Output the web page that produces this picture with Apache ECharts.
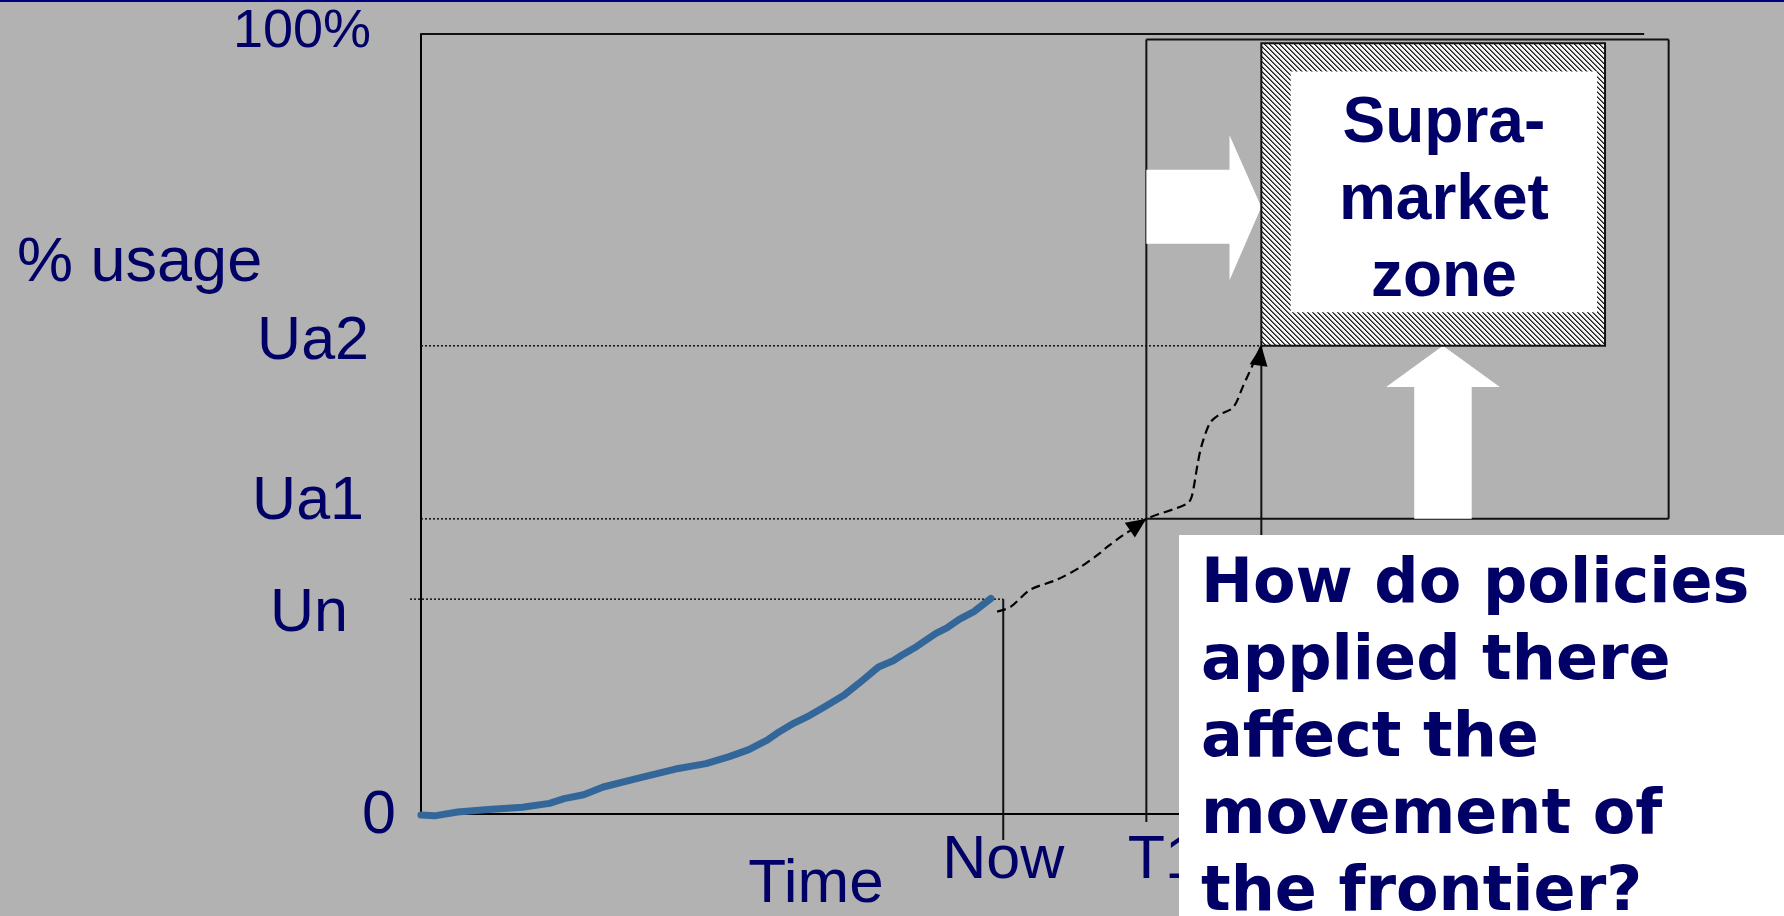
<!DOCTYPE html>
<html>
<head>
<meta charset="utf-8">
<title>Supra-market zone</title>
<script src="https://cdn.jsdelivr.net/npm/echarts@6/dist/echarts.min.js"></script>
<style>
  html, body { margin: 0; padding: 0; background: #b2b2b2; }
  #chart { width: 1784px; height: 916px; }
</style>
</head>
<body>
<div id="chart"></div>
<script>
// usage levels on the y axis (percent of capacity)
const levelNames = ['0', 'Un', 'Ua1', 'Ua2', '100%']
const levelValues = [0, 27.5, 37.8, 60.0, 100]

// points in time on the x axis
const timeNames = ['Now', 'T1']
const timeValues = [47.6, 59.3]
const frontierTime = 68.7

// observed usage up to now
const usage = [
  [0, -0.2], [1.1, -0.3], [3.0, 0.2], [5.5, 0.5], [8.3, 0.8], [10.5, 1.3],
  [11.7, 1.9], [13.3, 2.4], [14.9, 3.4], [17.7, 4.5], [20.8, 5.7], [23.3, 6.4],
  [25.2, 7.3], [26.8, 8.2], [28.3, 9.4], [29.3, 10.5], [30.5, 11.6], [31.8, 12.6],
  [33.0, 13.7], [34.6, 15.2], [35.8, 16.7], [37.4, 18.8], [38.6, 19.6], [39.3, 20.3],
  [40.5, 21.4], [42.1, 23.1], [43.0, 23.8], [44.0, 24.9], [45.2, 25.9], [46.6, 27.6]
]

// projected usage after now
const projected = [
  [47.1, 25.9], [48.2, 26.5], [49.8, 28.7], [52.0, 30.0], [53.9, 31.6], [55.5, 33.4],
  [56.1, 34.2], [57.4, 35.7], [58.5, 36.8], [59.3, 37.8], [62.6, 39.7], [63.0, 40.6],
  [63.5, 44.9], [63.8, 47.1], [64.5, 50.1], [65.2, 51.1], [66.4, 52.1], [67.2, 54.8],
  [68.7, 60.0]
]

const navy = '#000066'
const axisFont = '"Liberation Sans", Arial, sans-serif'

const Un = levelValues[1], Ua1 = levelValues[2], Ua2 = levelValues[3]
const now = timeValues[0], t1 = timeValues[1]

// frame round the future region and the supra-market zone
const frameTop = 99.3, frameRight = 102
const zone = [frontierTime, Ua2, 96.8, 98.8]
const zoneInner = [71.1, 64.3, 96.15, 95.2]

// dotted level guides: x1, y1, x2, y2
const guides = [
  [-0.9, Un, now, Un],
  [0, Ua1, t1, Ua1],
  [0, Ua2, frontierTime, Ua2]
]

// solid lines
const frames = [
  [0, 100, 100, 100],
  [now, Un, now, -3.4],
  [t1, frameTop, t1, -1.1],
  [frontierTime, Ua2, frontierTime, -1.1],
  [t1, frameTop, frameRight, frameTop],
  [frameRight, frameTop, frameRight, Ua1],
  [t1, Ua1, frameRight, Ua1]
]

// arrow heads on the projection: tail x, tail y, tip x, tip y
const arrowHeads = [
  [57.9, 36.3, t1, Ua1],
  [68.47, 57.4, frontierTime, Ua2]
]

// white block arrows pointing at the zone
const rightArrow = [[t1, 82.6], [66.1, 82.6], [66.1, 87.0], [frontierTime, 77.8], [66.1, 68.4], [66.1, 73.1], [t1, 73.1]]
const upArrow = [[81.2, Ua1], [81.2, 54.7], [78.9, 54.7], [83.55, Ua2], [88.2, 54.7], [85.9, 54.7], [85.9, Ua1]]

function hatchPattern() {
  const n = 5
  const c = document.createElement('canvas')
  c.width = n
  c.height = n
  const ctx = c.getContext('2d')
  ctx.fillStyle = '#f4f4f4'
  ctx.fillRect(0, 0, n, n)
  for (let y = 0; y < n; y++) {
    for (let x = 0; x < n; x++) {
      const d = (((x - y) % n) + n) % n
      if (d === 0) {
        ctx.fillStyle = '#1e1e1e'
        ctx.fillRect(x, y, 1, 1)
      } else if (d === 1) {
        ctx.fillStyle = '#6a6a6a'
        ctx.fillRect(x, y, 1, 1)
      }
    }
  }
  return c
}

function segments(style) {
  return function (params, api) {
    const p1 = api.coord([api.value(0), api.value(1)])
    const p2 = api.coord([api.value(2), api.value(3)])
    return {
      type: 'line',
      shape: { x1: p1[0], y1: p1[1], x2: p2[0], y2: p2[1] },
      style: style
    }
  }
}

function renderArrowHead(params, api) {
  const a = api.coord([api.value(0), api.value(1)])
  const b = api.coord([api.value(2), api.value(3)])
  const dx = b[0] - a[0], dy = b[1] - a[1]
  const len = Math.sqrt(dx * dx + dy * dy)
  const ux = dx / len, uy = dy / len
  const L = 20, W = 9
  const bx = b[0] - ux * L, by = b[1] - uy * L
  return {
    type: 'polygon',
    shape: { points: [[b[0], b[1]], [bx - uy * W, by + ux * W], [bx + uy * W, by - ux * W]] },
    style: { fill: '#000' }
  }
}

const hatch = hatchPattern()

function renderZone(params, api) {
  const p0 = api.coord([api.value(0), api.value(1)])
  const p1 = api.coord([api.value(2), api.value(3)])
  const i0 = api.coord([zoneInner[0], zoneInner[1]])
  const i1 = api.coord([zoneInner[2], zoneInner[3]])
  return {
    type: 'group',
    children: [
      {
        type: 'polygon',
        shape: { points: rightArrow.map(p => api.coord(p)) },
        style: { fill: '#fff' }
      },
      {
        type: 'polygon',
        shape: { points: upArrow.map(p => api.coord(p)) },
        style: { fill: '#fff' }
      },
      {
        type: 'rect',
        shape: { x: p0[0], y: p1[1], width: p1[0] - p0[0], height: p0[1] - p1[1] },
        style: { fill: { image: hatch, repeat: 'repeat' }, stroke: '#111', lineWidth: 2 }
      },
      {
        type: 'rect',
        shape: { x: i0[0], y: i1[1], width: i1[0] - i0[0], height: i0[1] - i1[1] },
        style: { fill: '#fff' }
      },
      {
        type: 'text',
        x: (i0[0] + i1[0]) / 2,
        y: (i0[1] + i1[1]) / 2 + 10,
        style: {
          text: 'Supra-\nmarket\nzone',
          fill: navy,
          font: 'bold 64px "Liberation Sans", Arial, sans-serif',
          lineHeight: 77,
          align: 'center',
          verticalAlign: 'middle'
        }
      }
    ]
  }
}

const levelRich = {
  l0: { padding: [6, 0, 0, 0] },
  l1: { padding: [30, 48, 0, 0] },
  l2: { padding: [0, 32, 33, 0] },
  l3: { padding: [0, 27, 8, 0] },
  l4: { padding: [0, 25, 3, 0], fontSize: 54, lineHeight: 54 }
}
Object.keys(levelRich).forEach(k => {
  levelRich[k] = Object.assign({ fontSize: 61, lineHeight: 61, fontFamily: axisFont, color: navy }, levelRich[k])
})

const timeRich = {
  t0: { padding: [0, 0, 0, 0] },
  t1: { padding: [0, 0, 0, 34] }
}
Object.keys(timeRich).forEach(k => {
  Object.assign(timeRich[k], { fontSize: 61, lineHeight: 61, fontFamily: axisFont, color: navy })
})

const chart = echarts.init(document.getElementById('chart'))
chart.setOption({
  backgroundColor: '#b2b2b2',
  animation: false,
  grid: { left: 421, top: 34, width: 1345.5, height: 779.5, outerBoundsMode: 'none' },
  xAxis: {
    type: 'value',
    min: 0,
    max: 110,
    splitLine: { show: false },
    axisTick: { show: false },
    axisLine: { show: true, lineStyle: { color: '#000', width: 2 } },
    axisLabel: {
      customValues: timeValues,
      margin: 17,
      formatter: v => '{t' + timeValues.indexOf(v) + '|' + timeNames[timeValues.indexOf(v)] + '}',
      rich: timeRich
    }
  },
  yAxis: {
    type: 'value',
    min: 0,
    max: 100,
    splitLine: { show: false },
    axisTick: { show: false },
    axisLine: { show: true, lineStyle: { color: '#000', width: 2 } },
    axisLabel: {
      customValues: levelValues,
      margin: 25,
      formatter: v => '{l' + levelValues.indexOf(v) + '|' + levelNames[levelValues.indexOf(v)] + '}',
      rich: levelRich
    }
  },
  series: [
    {
      name: 'guides',
      type: 'custom',
      clip: false,
      silent: true,
      z: 1,
      data: guides,
      renderItem: segments({ stroke: '#111', lineWidth: 1.5, lineDash: [2, 2] })
    },
    {
      name: 'frames',
      type: 'custom',
      clip: false,
      silent: true,
      z: 2,
      data: frames,
      renderItem: segments({ stroke: '#111', lineWidth: 2 })
    },
    {
      name: 'zone',
      type: 'custom',
      clip: false,
      silent: true,
      z: 3,
      data: [zone],
      renderItem: renderZone
    },
    {
      name: 'usage',
      type: 'line',
      clip: false,
      z: 4,
      data: usage,
      showSymbol: false,
      symbol: 'none',
      lineStyle: { color: '#336699', width: 7, cap: 'round', join: 'round' }
    },
    {
      name: 'projected',
      type: 'line',
      clip: false,
      z: 4,
      data: projected,
      smooth: 0.3,
      symbol: 'none',
      lineStyle: { color: '#000', width: 2.2, type: [9, 5] }
    },
    {
      name: 'arrows',
      type: 'custom',
      clip: false,
      silent: true,
      z: 5,
      data: arrowHeads,
      renderItem: renderArrowHead
    }
  ],
  graphic: [
    { type: 'rect', x: 0, y: 0, shape: { width: 1784, height: 2 }, style: { fill: '#000080' }, z: 60 },
    {
      type: 'text', x: 17, y: 264, z: 60,
      style: { text: '% usage', font: '63px "Liberation Sans", Arial, sans-serif', fill: navy, align: 'left', verticalAlign: 'middle', textAlign: 'left', textVerticalAlign: 'middle' }
    },
    {
      type: 'text', x: 816, y: 885, z: 60,
      style: { text: 'Time', font: '62px "Liberation Sans", Arial, sans-serif', fill: navy, align: 'center', verticalAlign: 'middle', textAlign: 'center', textVerticalAlign: 'middle' }
    },
    { type: 'rect', x: 1179, y: 535, shape: { width: 605, height: 381 }, style: { fill: '#fff' }, z: 60 },
    {
      type: 'text', x: 1201, y: 547, z: 61,
      style: {
        text: 'How do policies\napplied there\naffect the\nmovement of\nthe frontier?',
        font: 'bold 62px "DejaVu Sans", sans-serif',
        lineHeight: 77,
        fill: navy,
        align: 'left', verticalAlign: 'top', textAlign: 'left', textVerticalAlign: 'top'
      }
    }
  ]
})
</script>
</body>
</html>
